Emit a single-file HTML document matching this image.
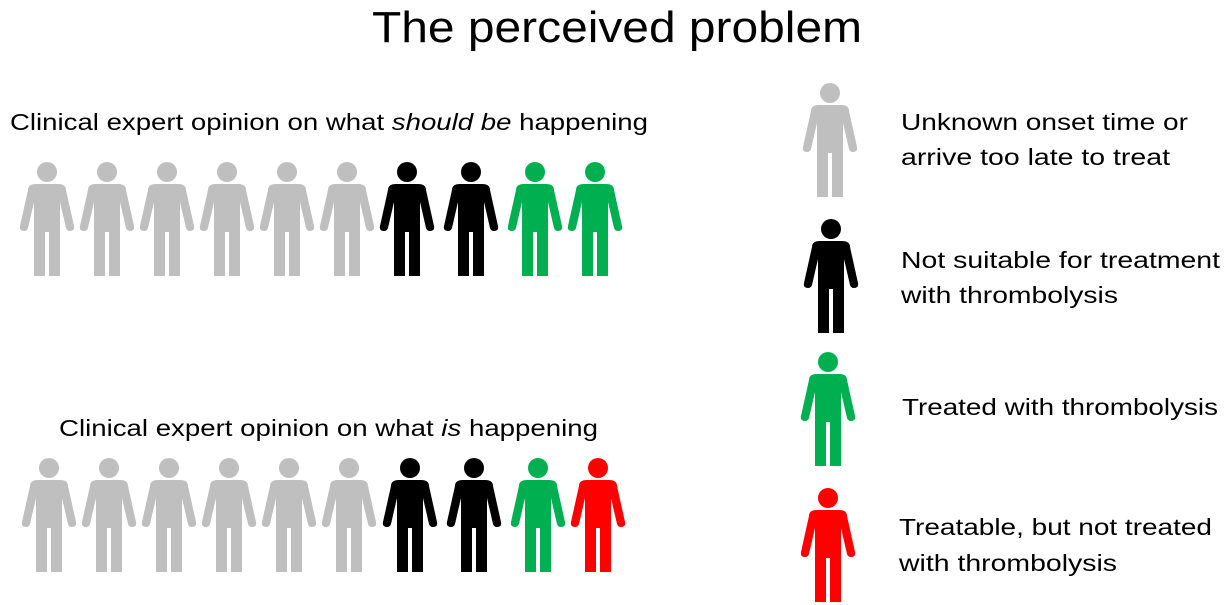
<!DOCTYPE html>
<html><head><meta charset="utf-8"><style>html,body{margin:0;padding:0;background:#fff}svg{display:block}</style></head>
<body>
<svg width="1232" height="605" viewBox="0 0 1232 605" xmlns="http://www.w3.org/2000/svg" font-family="Liberation Sans, sans-serif" fill="#000">
<defs>
<g id="p">
<circle cx="27" cy="10" r="10"/>
<path d="M8,28 Q8,22 16,22 L38,22 Q46,22 46,28 L54,64 Q55,69 50,69 Q47,69 46,66 L40,40 L40,114 L29,114 L29,70 L25,70 L25,114 L14,114 L14,40 L8,66 Q7,69 4,69 Q-1,69 0,64 Z"/>
</g>
</defs>
<text x="617" y="42" font-size="44" text-anchor="middle" textLength="490" lengthAdjust="spacingAndGlyphs">The perceived problem</text>
<text x="10" y="130" font-size="23" textLength="638" lengthAdjust="spacingAndGlyphs">Clinical expert opinion on what <tspan font-style="italic">should be</tspan> happening</text>
<text x="59" y="436" font-size="23" textLength="539" lengthAdjust="spacingAndGlyphs">Clinical expert opinion on what <tspan font-style="italic">is</tspan> happening</text>

<g fill="#bfbfbf">
<use href="#p" x="20" y="162"/><use href="#p" x="80" y="162"/><use href="#p" x="140" y="162"/><use href="#p" x="200" y="162"/><use href="#p" x="260" y="162"/><use href="#p" x="320" y="162"/>
<use href="#p" x="22" y="458"/><use href="#p" x="82" y="458"/><use href="#p" x="142" y="458"/><use href="#p" x="202" y="458"/><use href="#p" x="262" y="458"/><use href="#p" x="322" y="458"/>
<use href="#p" x="803" y="83"/>
</g>
<g fill="#000">
<use href="#p" x="380" y="162"/><use href="#p" x="444" y="162"/>
<use href="#p" x="383" y="458"/><use href="#p" x="447" y="458"/>
<use href="#p" x="804" y="219"/>
</g>
<g fill="#00b050">
<use href="#p" x="508" y="162"/><use href="#p" x="568" y="162"/>
<use href="#p" x="511" y="458"/>
<use href="#p" x="801" y="352"/>
</g>
<g fill="#ff0000">
<use href="#p" x="571" y="458"/>
<use href="#p" x="801" y="488"/>
</g>

<g font-size="23">
<text x="901" y="130" textLength="287" lengthAdjust="spacingAndGlyphs">Unknown onset time or</text>
<text x="901" y="165" textLength="269" lengthAdjust="spacingAndGlyphs">arrive too late to treat</text>
<text x="901" y="268" textLength="319" lengthAdjust="spacingAndGlyphs">Not suitable for treatment</text>
<text x="901" y="303" textLength="217" lengthAdjust="spacingAndGlyphs">with thrombolysis</text>
<text x="902" y="415" textLength="316" lengthAdjust="spacingAndGlyphs">Treated with thrombolysis</text>
<text x="899" y="535" textLength="313" lengthAdjust="spacingAndGlyphs">Treatable, but not treated</text>
<text x="899" y="571" textLength="218" lengthAdjust="spacingAndGlyphs">with thrombolysis</text>
</g>
</svg>
</body></html>
